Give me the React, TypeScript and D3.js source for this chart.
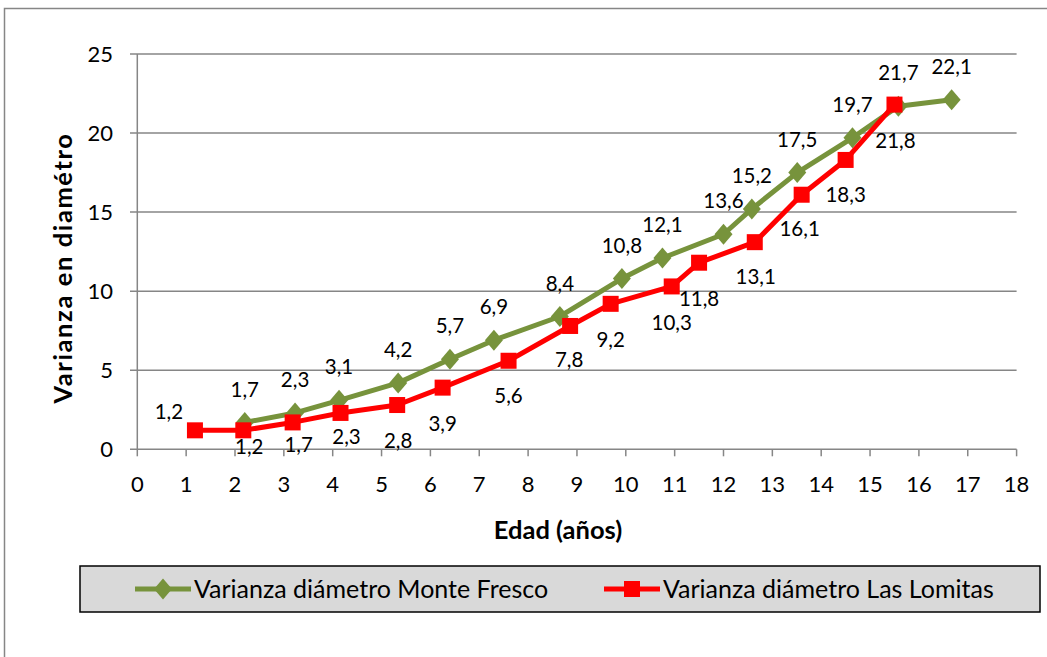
import React from "react";
import * as d3 from "d3";

const monteX = [2.2, 3.23, 4.13, 5.34, 6.4, 7.3, 8.65, 9.92, 10.75, 12.0, 12.58, 13.51, 14.64, 15.58, 16.67];
const monteY = [1.7, 2.3, 3.1, 4.2, 5.7, 6.9, 8.4, 10.8, 12.1, 13.6, 15.2, 17.5, 19.7, 21.7, 22.1];
const lomitasX = [1.18, 2.17, 3.18, 4.16, 5.32, 6.25, 7.6, 8.86, 9.69, 10.94, 11.5, 12.64, 13.6, 14.5, 15.5];
const lomitasY = [1.2, 1.2, 1.7, 2.3, 2.8, 3.9, 5.6, 7.8, 9.2, 10.3, 11.8, 13.1, 16.1, 18.3, 21.8];
// label shifts (dx, dy) relative to the point for the Las Lomitas labels
const lomitasLabelShift: [number, number][] = [
  [-26, -19], [6, 16], [6, 22], [6, 24], [1, 36], [0, 36], [0, 35], [-1, 34], [0, 36], [0, 36], [0, 36], [1, 35], [-2, 34], [0, 35], [1, 36],
];
const xTicks = d3.range(0, 19, 1);
const yTicks = [0, 5, 10, 15, 20, 25];
const seriesNames = ["Varianza diámetro Monte Fresco", "Varianza diámetro Las Lomitas"];
const xTitle = "Edad (años)";
const yTitle = "Varianza en diamétro";

const GREEN = "#77933C";
const RED = "#FF0000";
const GRID = "#868686";
const FONT = "Lato, 'Open Sans', sans-serif";

export default function App() {
  const W = 1047, H = 657;
  const x = d3.scaleLinear().domain([0, 18]).range([137.3, 1016.6]);
  const y = d3.scaleLinear().domain([0, 25]).range([449.3, 54]);
  const fmt = (v: number) => v.toFixed(1).replace(".", ",");

  const monte = monteX.map((v, i) => [v, monteY[i]] as [number, number]);
  const lomitas = lomitasX.map((v, i) => [v, lomitasY[i]] as [number, number]);
  const line = d3.line<[number, number]>().x(d => x(d[0])).y(d => y(d[1]));
  const diamond = "M0,-10.5L9,0L0,10.5L-9,0Z";

  const labelFs = 20.5;
  const tickFs = 22;
  const titleFs = 25.5;
  const legendFs = 25;

  return (
    <svg width={W} height={H} style={{ position: "absolute", left: 0, top: 0, background: "#fff" }} fontFamily={FONT}>
      <rect x={4.5} y={8.5} width={1200} height={800} fill="none" stroke={GRID} strokeWidth={1.5} />
      {/* grid */}
      {yTicks.map(t => (
        <g key={"y" + t}>
          <line x1={130} x2={x(18)} y1={y(t)} y2={y(t)} stroke={GRID} strokeWidth={1.5} />
          <text x={113} y={y(t) + tickFs * 0.35} textAnchor="end" fontSize={tickFs} fill="#000">{t}</text>
        </g>
      ))}
      <line x1={x(0)} x2={x(0)} y1={y(25)} y2={y(0)} stroke={GRID} strokeWidth={1.5} />
      {xTicks.map(t => (
        <g key={"x" + t}>
          <line x1={x(t)} x2={x(t)} y1={y(0)} y2={y(0) + 7} stroke={GRID} strokeWidth={1.5} />
          <text x={x(t)} y={484 + tickFs * 0.35} textAnchor="middle" fontSize={tickFs} fill="#000">{t}</text>
        </g>
      ))}
      {/* axis titles */}
      <text x={558} y={530 + 0.35 * titleFs} textAnchor="middle" fontSize={titleFs} fontWeight="bold">{xTitle}</text>
      <text transform={`translate(${63 + 0.35 * titleFs},268) rotate(-90)`} textAnchor="middle" fontSize={titleFs} fontWeight="bold" letterSpacing={1.6}>{yTitle}</text>

      {/* series */}
      <path d={line(monte) || ""} fill="none" stroke={GREEN} strokeWidth={5} strokeLinejoin="round" />
      {monte.map((d, i) => (
        <path key={"md" + i} d={diamond} transform={`translate(${x(d[0])},${y(d[1])})`} fill={GREEN} />
      ))}
      <path d={line(lomitas) || ""} fill="none" stroke={RED} strokeWidth={5} strokeLinejoin="round" />
      {lomitas.map((d, i) => (
        <rect key={"lr" + i} x={x(d[0]) - 8} y={y(d[1]) - 8} width={16} height={16} fill={RED} />
      ))}

      {/* labels */}
      {monte.map((d, i) => (
        <text key={"ml" + i} x={x(d[0])} y={y(d[1]) - 33 + labelFs * 0.35} textAnchor="middle" fontSize={labelFs}>{fmt(d[1])}</text>
      ))}
      {lomitas.map((d, i) => (
        <text key={"ll" + i} x={x(d[0]) + lomitasLabelShift[i][0]} y={y(d[1]) + lomitasLabelShift[i][1] + labelFs * 0.35} textAnchor="middle" fontSize={labelFs}>{fmt(d[1])}</text>
      ))}

      {/* legend */}
      <rect x={80} y={566} width={960} height={46} fill="#D9D9D9" stroke="#000" strokeWidth={1.5} />
      <line x1={135} x2={191} y1={589} y2={589} stroke={GREEN} strokeWidth={5} />
      <path d={diamond} transform="translate(163,589)" fill={GREEN} />
      <text x={194} y={589 + 0.35 * legendFs} fontSize={legendFs}>{seriesNames[0]}</text>
      <line x1={604} x2={660} y1={589} y2={589} stroke={RED} strokeWidth={5} />
      <rect x={624} y={581} width={16} height={16} fill={RED} />
      <text x={663} y={589 + 0.35 * legendFs} fontSize={legendFs}>{seriesNames[1]}</text>
    </svg>
  );
}
